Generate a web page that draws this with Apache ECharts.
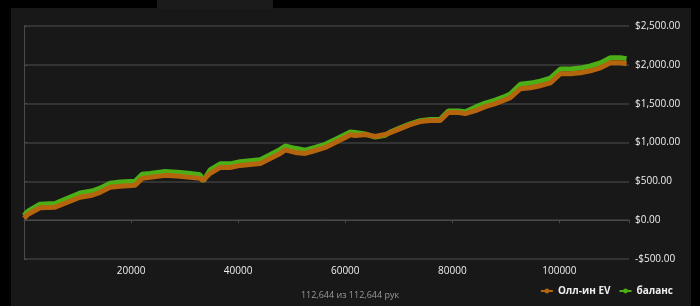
<!DOCTYPE html>
<html><head><meta charset="utf-8">
<style>html,body{margin:0;padding:0;background:#000;}#c{width:700px;height:306px;}</style>
<script src="https://cdn.jsdelivr.net/npm/echarts@6/dist/echarts.min.js"></script>
</head><body><div id="c"></div>
<script>
const hands = [0,748,2990,5794,7663,10467,12710,14206,16075,17944,20748,22056,23551,26355,29159,31028,32897,33458,34766,36636,38505,40374,42243,44112,45981,47850,48780,50650,52520,54390,56260,58130,60000,60930,61860,63730,65600,67470,68400,70270,72140,74000,75880,77750,79250,81120,82420,84290,86160,88030,89900,90830,92700,94570,96440,98310,100180,102050,103920,105790,107660,109530,111400,112540];
const allinEV = [26,77,160,167,218,295,321,359,423,436,449,538,551,577,564,551,538,513,603,679,679,705,718,731,795,859,905,872,859,897,936,1000,1064,1100,1090,1103,1077,1103,1128,1179,1231,1269,1282,1282,1385,1385,1372,1410,1462,1500,1551,1577,1692,1705,1731,1769,1885,1885,1897,1923,1962,2026,2026,2013];
const balance = [60,115,205,215,270,350,375,412,476,490,502,590,600,628,615,600,585,503,648,725,725,752,765,778,842,912,955,925,900,937,976,1040,1104,1135,1128,1110,1070,1093,1135,1188,1240,1280,1295,1300,1405,1405,1395,1455,1508,1545,1596,1625,1750,1765,1790,1830,1945,1945,1958,1985,2025,2090,2092,2080];
const yTicks = [-500,0,500,1000,1500,2000,2500];
const xTicks = [0,20000,40000,60000,80000,100000];
const footer = '112,644 из 112,644 рук';

function fmtMoney(v){
  const a = Math.abs(v).toFixed(2).replace(/\B(?=(\d{3})+(?!\d))/g, ',');
  return (v < 0 ? '-$' : '$') + a;
}
const chart = echarts.init(document.getElementById('c'));
chart.setOption({
  backgroundColor: '#000',
  animation: false,
  graphic: [
    {type:'rect', z:-10, shape:{x:11,y:8,width:680,height:298}, style:{fill:'#181818'}},
    {type:'rect', z:-10, shape:{x:157,y:0,width:116,height:9}, style:{fill:'#1b1b1b'}},
    {type:'text', left:'center', top:291, style:{text: footer, fill:'#9a9a9a', font:'9px "Open Sans", sans-serif'}}
  ],
  grid: {left:24, right:71, top:26, bottom:47},
  legend: {
    data: ['Олл-ин EV','баланс'], right: 22, top: 281, itemWidth: 12, itemHeight: 6, itemGap: 8,
    textStyle: {color:'#eeeeee', fontSize: 10, fontWeight:'bold', fontFamily:'"Open Sans", sans-serif'}
  },
  xAxis: {
    type:'value', min:0, max:113000, interval:20000,
    axisLine:{show:true, lineStyle:{color:'#4a4a4a'}},
    axisTick:{show:true, length:3, lineStyle:{color:'#4a4a4a'}},
    axisLabel:{color:'#eeeeee', fontSize:10, fontFamily:'"Open Sans", sans-serif', margin:7, showMinLabel:false,
      formatter: v => xTicks.includes(v) ? String(v) : ''},
    splitLine:{show:false}
  },
  yAxis: {
    type:'value', position:'right', min:-500, max:2500, interval:500,
    axisLine:{show:true, lineStyle:{color:'#4a4a4a'}},
    axisTick:{show:true, length:3, lineStyle:{color:'#4a4a4a'}},
    axisLabel:{color:'#eeeeee', fontSize:10, fontFamily:'"Open Sans", sans-serif', margin:6,
      formatter: v => yTicks.includes(v) ? fmtMoney(v) : ''},
    splitLine:{show:true, lineStyle:{color:'#3c3c3c', width:1.5}}
  },
  series: [
    {name:'баланс', type:'line', data: hands.map((h,i)=>[h,balance[i]]), showSymbol:false, symbol:'circle', symbolSize:5,
      color:'#4caf16', lineStyle:{width:5, color:'#4caf16'}},
    {name:'Олл-ин EV', type:'line', data: hands.map((h,i)=>[h,allinEV[i]]), showSymbol:false, symbol:'circle', symbolSize:5,
      color:'#b5650e', lineStyle:{width:5, color:'#b5650e'}}
  ]
});
</script></body></html>
